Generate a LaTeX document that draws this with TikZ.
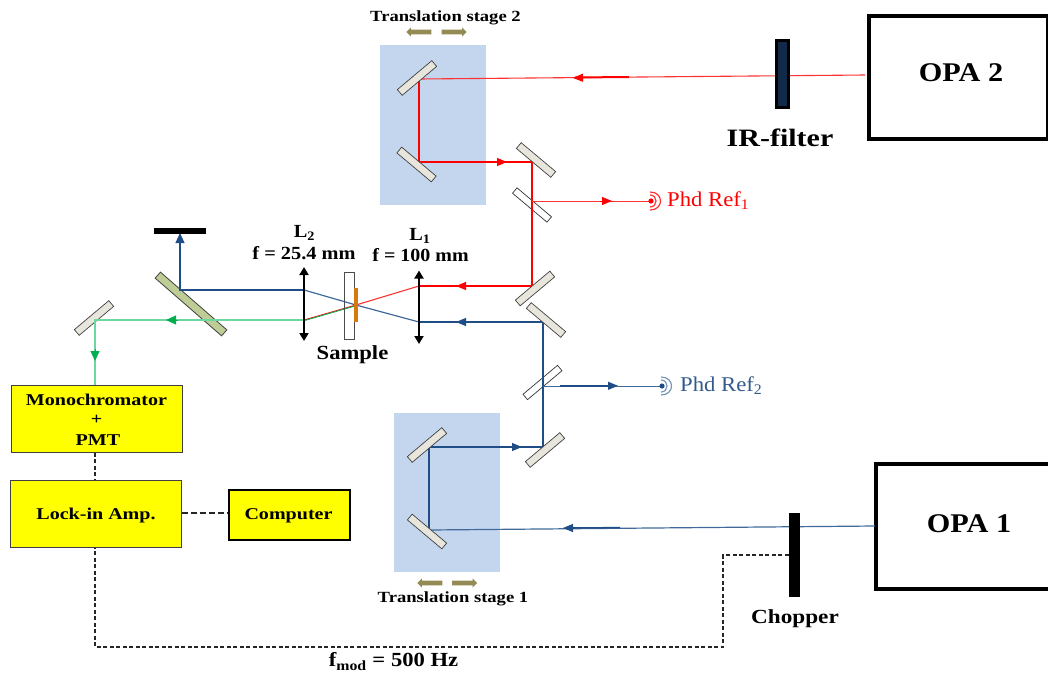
\documentclass[tikz,border=0pt]{standalone}
\usepackage{fontspec}
\usepackage{graphicx}
\setmainfont{Liberation Serif}
\usetikzlibrary{arrows.meta,shapes.arrows,calc}
\definecolor{beamred}{RGB}{255,0,0}
\definecolor{beamblue}{RGB}{31,78,135}
\definecolor{beamgreen}{RGB}{0,176,80}
\definecolor{thingreen}{RGB}{110,215,160}
\definecolor{stageblue}{RGB}{196,214,238}
\definecolor{mirrorfill}{RGB}{232,230,220}
\definecolor{olive}{RGB}{148,138,84}
\definecolor{splitgreen}{RGB}{190,205,150}
\definecolor{labelblue}{RGB}{50,90,140}
\definecolor{navy}{RGB}{18,41,74}
\definecolor{boxyellow}{RGB}{255,255,0}
\definecolor{filmorange}{RGB}{215,120,15}
\definecolor{lightred}{RGB}{255,50,50}
\newcommand{\tsize}[1]{\fontsize{#1}{#1}\selectfont}
\newcommand{\wide}[2][1.215]{\scalebox{#1}[1]{#2}}
\tikzset{
  x=1pt,y=-1pt,
  mirror/.style={draw=black!75,fill=mirrorfill,line width=0.7pt,minimum width=45pt,minimum height=7.5pt,inner sep=0pt,rotate=#1},
  splitter/.style={draw=black!80,line width=0.7pt,minimum width=45pt,minimum height=7pt,inner sep=0pt,rotate=#1},
  stage/.style={fill=stageblue,draw=none,inner sep=0pt,anchor=north west},
  yellowbox/.style={draw=black!75,fill=boxyellow,line width=0.9pt,inner sep=0pt,anchor=north west},
  opabox/.style={draw=black,line width=4pt,inner sep=0pt,anchor=north west},
  lbl/.style={inner sep=0pt,font=\tsize{16.5}\bfseries,align=center},
  optlbl/.style={inner sep=0pt,font=\tsize{18.5}\bfseries,align=center},
  stagelbl/.style={inner sep=0pt,font=\tsize{15.5}\bfseries},
  biglbl/.style={inner sep=0pt,font=\tsize{20}\bfseries},
  beamR/.style={draw=beamred,line width=2pt},
  thinR/.style={draw=lightred,line width=1.1pt},
  beamB/.style={draw=beamblue,line width=2pt},
  thinB/.style={draw=beamblue!85,line width=1.2pt},
  thinG/.style={draw=thingreen,line width=1.4pt},
  tipR/.style={-{Triangle[length=10pt,width=8pt]},draw=beamred,line width=1pt},
  tipB/.style={-{Triangle[length=10pt,width=8pt]},draw=beamblue,line width=1pt},
  tipG/.style={-{Triangle[length=10pt,width=9pt]},draw=beamgreen,line width=1pt},
  lens/.style={{Triangle[length=8pt,width=9pt]}-{Triangle[length=8pt,width=9pt]},draw=black,line width=1.8pt},
  dashline/.style={draw=black!85,line width=1.1pt,dash pattern=on 4pt off 2.5pt},
  stagearrow/.style={single arrow,draw=none,fill=olive,minimum height=25pt,minimum width=9pt,single arrow head extend=1.5pt,inner sep=1.5pt},
  blackbar/.style={fill=black,draw=none,inner sep=0pt,anchor=north west},
}
\begin{document}
\begin{tikzpicture}
\useasboundingbox (0,0) rectangle (1048,672);
% stages
\node[stage,minimum width=106pt,minimum height=160pt] (st2) at (380,45) {};
\node[stage,minimum width=106pt,minimum height=159pt] (st1) at (394,413) {};
% beam corner points
\coordinate (a1) at (419,79);
\coordinate (a2) at (419,162);
\coordinate (a3) at (532,162);
\coordinate (a4) at (532,286);
\coordinate (a5) at (419,286);
\coordinate (b1) at (429,530);
\coordinate (b2) at (429,447);
\coordinate (b3) at (543,447);
\coordinate (b4) at (543,322);
\coordinate (b5) at (419,322);
\coordinate (f) at (356,305);
\coordinate (c1) at (304,290);
\coordinate (c2) at (304,320);
\coordinate (c3) at (180,290);
\coordinate (g1) at (95,320);
\coordinate (ph1) at (651,201);
\coordinate (ph2) at (662,386);
\coordinate (opa2in) at (865,75);
\coordinate (opa1in) at (875,526);
% boxes
\node[opabox,minimum width=179pt,minimum height=123pt] (opa2) at (867,14) {};
\draw[draw=black,line width=4pt] (1048,464) -- (876,464) -- (876,589) -- (1048,589);
\node[inner sep=0pt,font=\tsize{27}\bfseries] (opa2t) at (961,72.5) {\wide[1.12]{OPA 2}};
\node[inner sep=0pt,font=\tsize{27}\bfseries] (opa1t) at (969,523.5) {\wide[1.12]{OPA 1}};
\node[yellowbox,minimum width=171pt,minimum height=67pt] (mono) at (11,385) {};
\node[lbl] (t1) at (96.5,399.5) {\wide{Monochromator}};
\node[lbl] (t2) at (96.5,420) {\wide{+}};
\node[lbl] (t3) at (98,440.5) {\wide{PMT}};
\node[yellowbox,minimum width=171pt,minimum height=67pt] (lock) at (10,480) {};
\node[lbl] (t4) at (96,516) {\wide{Lock-in Amp.}};
\node[yellowbox,line width=1.7pt,draw=black,minimum width=121pt,minimum height=50pt] (comp) at (228,489) {};
\node[lbl] (t5) at (288.5,515.5) {\wide{Computer}};
% dashed lines
\draw[dashline] (mono.south -| g1) -- (lock.north -| g1);
\coordinate (e1) at (181,513);
\draw[dashline,dash pattern=on 6pt off 3pt] (lock.east |- e1) -- (comp.west |- e1);
\coordinate (d1) at (795,555);
\coordinate (d2) at (723,555);
\coordinate (d3) at (723,647);
\coordinate (d4) at (95,647);
\draw[dashline] (d1) -- (d2) -- (d3) -- (d4) -- (lock.south -| g1);
% red beams
\draw[thinR] (opa2in) -- (a1);
\draw[beamR] (629,77) -- (575,77.5);
\draw[beamR,line width=1.8pt] (a1) -- (a2);
\draw[beamR,line width=2.4pt] (a2) -- (a3);
\draw[beamR] (a4) -- (a5);
\draw[thinR] (a5) -- (f);
% splitters under the beams
\node[splitter=-40] (s1) at (532,205) {};
\node[splitter=40] (s2) at (542.5,382.5) {};
\draw[beamR,line width=2.4pt] (a3) -- (a4);
\draw[thinR,line width=1pt] (532,201) -- (ph1);
% blue beams
\draw[thinB] (opa1in) -- (b1);
\draw[beamB,line width=1.5pt] (572,528) -- (620,527.6);
\draw[beamB] (b1) -- (b2) -- (b3) -- (b4) -- (b5);
\draw[thinB] (b5) -- (f) -- (c1);
\draw[thinB,line width=1pt] (543,386) -- (ph2);
\draw[beamB,line width=1.5pt] (560,385.8) -- (612,385.8);
% green and red to L2
\draw[draw=beamred,line width=0.9pt] (f) -- (c2);
\draw[draw=beamgreen,line width=0.9pt] ($(f)+(0,0.7)$) -- ($(c2)+(0,0.7)$);
% arrowheads
\draw[tipR] (585,77.7) -- (573,78);
\draw[tipR] (495,162) -- (507,162);
\draw[tipR,line width=0.8pt] (600,201) -- (612,201);
\draw[tipR] (468,286) -- (456,286);
\draw[tipB] (468,322) -- (456,322);
\draw[tipB] (606,385.8) -- (618,385.8);
\draw[tipB] (510,447) -- (522,447);
\draw[tipB] (575,528) -- (563,528);
% mirrors
\node[mirror=40] (m1) at (417,78) {};
\node[mirror=-40] (m2) at (416.5,164.5) {};
\node[mirror=-40] (m3) at (536,160) {};
\node[mirror=40] (m4) at (535,288.5) {};
\node[mirror=-40] (m5) at (546,320) {};
\node[mirror=40] (m6) at (545,450) {};
\node[mirror=40] (m7) at (427,445) {};
\node[mirror=-40] (m8) at (427,531.5) {};
\node[mirror=40] (m9) at (94,318) {};
\node[draw=black!75,fill=splitgreen,line width=0.8pt,minimum width=88pt,minimum height=8pt,inner sep=0pt,rotate=-41] (gm) at (191,304) {};
\draw[thinG] (c2) -- (g1) -- (mono.north -| g1);
\draw[tipG] (178,320) -- (166,320);
\draw[tipG] (95,349) -- (95,361);
\draw[beamB,line width=2.6pt] (c1) -- (c3) -- (180,242);
\draw[tipB,line width=1pt,-{Triangle[length=10pt,width=9pt]}] (180,245) -- (180,233);
% lenses and sample
\draw[lens] (304,267) -- (304,341);
\draw[lens] (419,270.5) -- (419,344);
\node[draw=black!70,line width=0.8pt,minimum width=10pt,minimum height=67pt,inner sep=0pt] (sample) at (349,305.5) {};
\node[fill=filmorange,draw=none,minimum width=3.5pt,minimum height=34pt,inner sep=0pt] (film) at (355.8,305) {};
% blockers
\node[blackbar,minimum width=52pt,minimum height=6pt] (dump) at (154,228) {};
\node[blackbar,minimum width=11pt,minimum height=84pt] (chop) at (789,513) {};
\node[draw=black,fill=navy,line width=3pt,minimum width=12pt,minimum height=67pt,inner sep=0pt] (irf) at (782.5,73.5) {};
% olive stage arrows
\node[stagearrow,shape border rotate=180] (sa1) at (420,32) {};
\node[stagearrow] (sa2) at (453,32) {};
\node[stagearrow,shape border rotate=180] (sa3) at (431,583) {};
\node[stagearrow] (sa4) at (463.5,583) {};
% detectors
\fill[beamred] (ph1) circle (2.6pt);
\fill[beamblue] (ph2) circle (2.6pt);
\draw[lightred,line width=1.2pt] ($(ph1)+(-1,-6)$) .. controls ($(ph1)+(7,-6)$) and ($(ph1)+(7,6)$) .. ($(ph1)+(-1,6)$);
\draw[lightred,line width=1.2pt] ($(ph1)+(-1,-9)$) .. controls ($(ph1)+(13,-9)$) and ($(ph1)+(13,9)$) .. ($(ph1)+(-1,9)$);
\draw[beamblue!60,line width=1.2pt] ($(ph2)+(-1,-6)$) .. controls ($(ph2)+(7,-6)$) and ($(ph2)+(7,6)$) .. ($(ph2)+(-1,6)$);
\draw[beamblue!60,line width=1.2pt] ($(ph2)+(-1,-9)$) .. controls ($(ph2)+(13,-9)$) and ($(ph2)+(13,9)$) .. ($(ph2)+(-1,9)$);
% labels
\node[stagelbl] (l1) at (445.5,18) {\wide[1.2]{Translation stage 2}};
\node[stagelbl] (l2) at (453,599) {\wide[1.2]{Translation stage 1}};
\node[optlbl] (l3) at (304.5,233) {\wide[1.1]{L\textsubscript{2}}};
\node[optlbl] (l4) at (304,253) {\wide[1.1]{f = 25.4 mm}};
\node[optlbl] (l5) at (420,236) {\wide[1.1]{L\textsubscript{1}}};
\node[optlbl] (l6) at (420.5,255) {\wide[1.08]{f = 100 mm}};
\node[biglbl] (l7) at (352.5,354.5) {\wide[1.13]{Sample}};
\node[inner sep=0pt,font=\tsize{25}\bfseries] (l8) at (780,137.5) {\wide[1.2]{IR-filter}};
\node[biglbl] (l9) at (795,618.5) {\wide[1.16]{Chopper}};
\node[biglbl] (l10) at (393.5,661.5) {\wide[1.13]{f\textsubscript{mod} = 500 Hz}};
\node[inner sep=0pt,anchor=west,text=beamred,font=\tsize{21}] (l11) at (667,201) {\wide[1.08]{Phd Ref\textsubscript{1}}};
\node[inner sep=0pt,anchor=west,text=labelblue,font=\tsize{21}] (l12) at (680,386) {\wide[1.08]{Phd Ref\textsubscript{2}}};
\end{tikzpicture}
\end{document}
